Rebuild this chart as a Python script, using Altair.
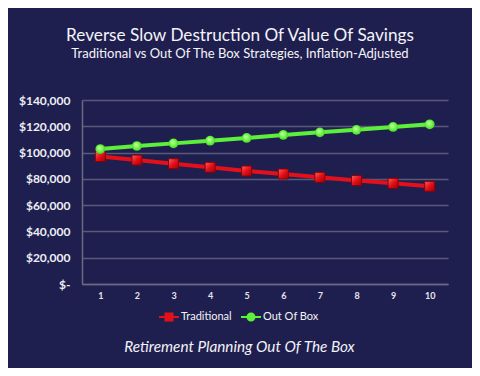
import altair as alt
import pandas as pd

years = [1, 2, 3, 4, 5, 6, 7, 8, 9, 10]
traditional = [97000, 94300, 91500, 88800, 86000, 83700, 81200, 78700, 76600, 74300]
out_of_box = [102700, 105000, 107000, 109000, 111100, 113400, 115400, 117300, 119500, 121500]
series_names = ["Traditional", "Out Of Box"]
series_colors = ["#e3101a", "#5cf03a"]
y_ticks = [0, 20000, 40000, 60000, 80000, 100000, 120000, 140000]

rows = []
for yr, v in zip(years, traditional):
    rows.append({"year": yr, "value": v, "series": "Traditional"})
for yr, v in zip(years, out_of_box):
    rows.append({"year": yr, "value": v, "series": "Out Of Box"})
df = pd.DataFrame(rows)

BG = "#1f1f4f"
FONT = "Lato"

x_enc = alt.X(
    "year:O",
    scale=alt.Scale(paddingOuter=0.5),
    axis=alt.Axis(
        labelAngle=0, labelColor="#e6e6ee", labelFont=FONT, labelFontSize=9,
        labelFontWeight="bold", labelPadding=7, ticks=False, domain=True,
        domainColor="#6a6a84", domainWidth=1.5, grid=False,
        title="Retirement Planning Out Of The Box", titleFont=FONT,
        titleFontSize=15.3, titleFontStyle="italic", titleFontWeight="normal",
        titleColor="#f2f2f6", titleX=157, titleY=67, titleAlign="center",
        titleBaseline="alphabetic", titleAnchor="start",
    ),
)
y_enc = alt.Y(
    "value:Q",
    scale=alt.Scale(domain=[0, 140000], nice=False),
    axis=alt.Axis(
        values=y_ticks,
        labelExpr="datum.value == 0 ? '$-' : '$' + format(datum.value, ',')",
        labelColor="#eeeef4", labelFont=FONT, labelFontSize=12,
        labelFontWeight="bold", labelPadding=12, ticks=False, domain=True,
        domainColor="#6a6a84", domainWidth=1.5, gridColor="#5a5a78",
        gridWidth=1.5, title=None,
    ),
)
color_scale = alt.Scale(domain=series_names, range=series_colors)

path_sq = "M-1,-0.09L1,-0.09L1,0.09L-1,0.09Z M-0.45,-0.45L0.45,-0.45L0.45,0.45L-0.45,0.45Z"
path_ci = "M-1,-0.09L1,-0.09L1,0.09L-1,0.09Z M-0.45,0A0.45,0.45 0 1,1 0.45,0A0.45,0.45 0 1,1 -0.45,0Z"

leg = alt.Legend(
    title=None, orient="none", direction="horizontal", legendX=77, legendY=207,
    labelColor="#f2f2f6", labelFont=FONT, labelFontSize=11, labelOffset=2,
    columnPadding=9, symbolSize=400, symbolStrokeWidth=0,
)
legend_layer = alt.Chart(df).transform_filter("false").mark_point(
    filled=True, size=400, opacity=1
).encode(
    x=x_enc, y=y_enc,
    color=alt.Color("series:N", scale=color_scale, legend=leg),
    shape=alt.Shape("series:N", scale=alt.Scale(domain=series_names, range=[path_sq, path_ci]), legend=leg),
)

lines = alt.Chart(df).mark_line(strokeWidth=4).encode(
    x=x_enc, y=y_enc,
    color=alt.Color("series:N", scale=color_scale, legend=None),
    detail="series:N",
)

red_pts = alt.Chart(df).transform_filter("datum.series == 'Traditional'").mark_square(
    size=100, opacity=1,
    fill=alt.LinearGradient(gradient="linear", x1=0, y1=0, x2=1, y2=1, stops=[
        alt.GradientStop(offset=0, color="#ff6060"),
        alt.GradientStop(offset=0.5, color="#e01018"),
        alt.GradientStop(offset=1, color="#a00008"),
    ]),
    stroke="#8a0006", strokeWidth=1,
).encode(x=x_enc, y=y_enc)

green_pts = alt.Chart(df).transform_filter("datum.series == 'Out Of Box'").mark_circle(
    size=95, opacity=1,
    fill=alt.RadialGradient(gradient="radial", x1=0.4, y1=0.35, x2=0.5, y2=0.5, r1=0, r2=0.6, stops=[
        alt.GradientStop(offset=0, color="#c8ffa8"),
        alt.GradientStop(offset=0.6, color="#66f23e"),
        alt.GradientStop(offset=1, color="#3cc020"),
    ]),
).encode(x=x_enc, y=y_enc)

chart = alt.layer(legend_layer, lines, red_pts, green_pts).properties(
    width=366, height=184,
    autosize=alt.AutoSizeParams(type="none"),
    padding={"left": 74, "top": 92, "right": 24, "bottom": 84},
    background=BG,
    title=alt.TitleParams(
        text="Reverse Slow Destruction Of Value Of Savings",
        subtitle="Traditional vs Out Of The Box Strategies, Inflation-Adjusted",
        anchor="middle", frame="group", dx=-25, offset=33,
        font=FONT, fontSize=17.2, fontWeight="normal", color="#f4f4f8",
        subtitleFont=FONT, subtitleFontSize=13, subtitleColor="#f4f4f8",
        subtitlePadding=4,
    ),
).configure_view(stroke=None)

chart.save("out.html", embed_options={"renderer": "svg", "actions": False})
